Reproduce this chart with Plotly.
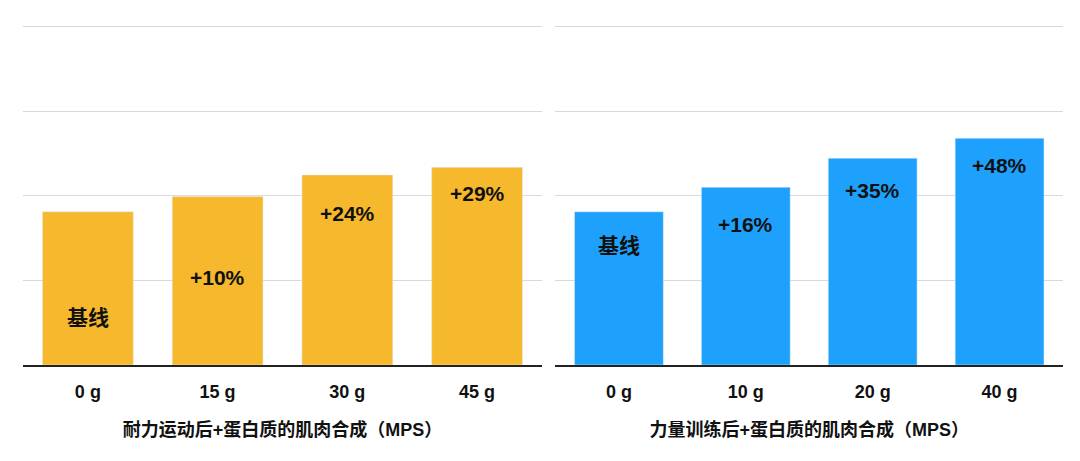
import plotly.graph_objects as go

# baseline = 100
endurance_doses = ["0 g", "15 g", "30 g", "45 g"]
endurance_mps = [100, 110, 124, 129]
endurance_labels = ["基线", "+10%", "+24%", "+29%"]

strength_doses = ["0 g", "10 g", "20 g", "40 g"]
strength_mps = [100, 116, 135, 148]
strength_labels = ["基线", "+16%", "+35%", "+48%"]

# where each label sits inside its bar
endurance_label_y = [31, 57, 99, 112]
strength_label_y = [78, 92, 114, 130]

ORANGE = "#F6B82C"
BLUE = "#1DA1FD"
STEP = 55.25
YMAX = STEP * 4 * 1.004

fig = go.Figure()
fig.add_bar(x=endurance_doses, y=endurance_mps, marker_color=ORANGE,
            xaxis="x", yaxis="y", hoverinfo="skip")
fig.add_bar(x=strength_doses, y=strength_mps, marker_color=BLUE,
            xaxis="x2", yaxis="y2", hoverinfo="skip")

for xs, ys, labels, ax in [
    (endurance_doses, endurance_label_y, endurance_labels, ""),
    (strength_doses, strength_label_y, strength_labels, "2"),
]:
    for x, y, t in zip(xs, ys, labels):
        fig.add_annotation(x=x, y=y, text=f"<b>{t}</b>", showarrow=False,
                           xref="x" + ax, yref="y" + ax,
                           font=dict(size=21, color="#111"))

font = "Liberation Sans, Noto Sans CJK SC, sans-serif"
xcommon = dict(showline=True, linecolor="#222", linewidth=1.5, ticks="",
               ticklabelstandoff=10,
               tickfont=dict(size=18, color="#111"), fixedrange=True)
ycommon = dict(range=[0, YMAX], dtick=STEP, showticklabels=False,
               gridcolor="#d9d9d9", zeroline=False, fixedrange=True)

fig.update_layout(
    width=1080, height=461,
    margin=dict(l=15, r=25, t=17, b=104),
    paper_bgcolor="white", plot_bgcolor="white",
    font=dict(family=font),
    showlegend=False, bargap=0.3,
    xaxis=dict(domain=[0, 0.499], anchor="y",
               title=dict(text="<b>耐力运动后+蛋白质的肌肉合成（MPS）</b>",
                          font=dict(size=18, color="#111"), standoff=22),
               **xcommon),
    xaxis2=dict(domain=[0.512, 1], anchor="y2",
                title=dict(text="<b>力量训练后+蛋白质的肌肉合成（MPS）</b>",
                           font=dict(size=18, color="#111"), standoff=22),
                **xcommon),
    yaxis=dict(anchor="x", **ycommon),
    yaxis2=dict(anchor="x2", **ycommon),
)
fig.update_xaxes(tickprefix="<b>", ticksuffix="</b>")

fig.write_html("out.html")
